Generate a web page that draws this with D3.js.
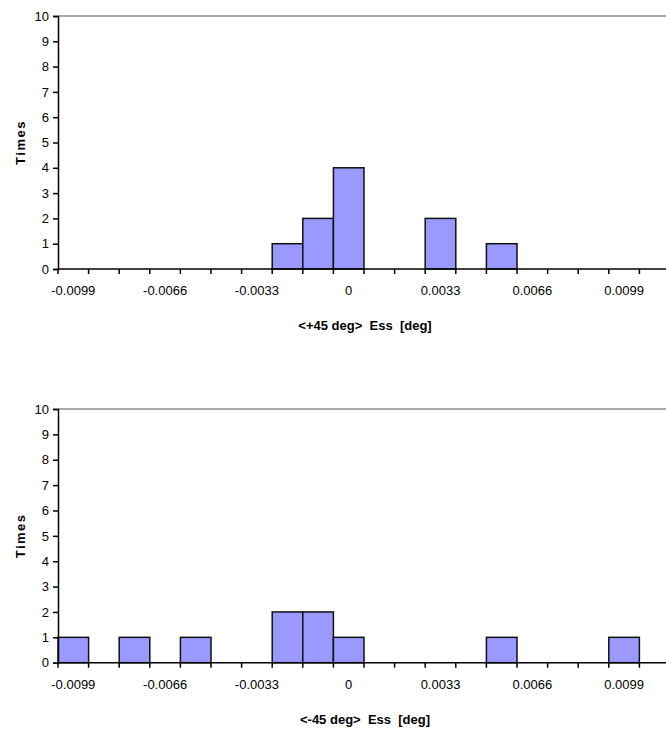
<!DOCTYPE html>
<html>
<head>
<meta charset="utf-8">
<script src="https://cdn.jsdelivr.net/npm/d3@7"></script>
<style>
  html, body { margin: 0; padding: 0; background: #fff; overflow: hidden; }
  svg { display: block; font-family: "Liberation Sans", Arial, sans-serif; }
</style>
</head>
<body>
<div id="chart"></div>
<script>
// histogram bins (category labels) and counts
const bins = ["-0.0099", "-0.0088", "-0.0077", "-0.0066", "-0.0055", "-0.0044", "-0.0033",
  "-0.0022", "-0.0011", "0", "0.0011", "0.0022", "0.0033", "0.0044", "0.0055", "0.0066",
  "0.0077", "0.0088", "0.0099", "0.011"];
const countsPlus45 = [0, 0, 0, 0, 0, 0, 0, 1, 2, 4, 0, 0, 2, 0, 1, 0, 0, 0, 0, 0];
const countsMinus45 = [1, 0, 1, 0, 1, 0, 0, 2, 2, 1, 0, 0, 0, 0, 1, 0, 0, 0, 1, 0];
const shownLabels = ["-0.0099", "-0.0066", "-0.0033", "0", "0.0033", "0.0066", "0.0099"];
const yTicks = [0, 1, 2, 3, 4, 5, 6, 7, 8, 9, 10];

const W = 666, H = 730;
const left = 58, right = 670;

const svg = d3.select("#chart").append("svg")
  .attr("width", W)
  .attr("height", H);

const x = d3.scaleBand().domain(bins).range([left, right]).padding(0);

function panel(counts, top, bottom, title) {
  const y = d3.scaleLinear().domain([0, 10]).range([bottom, top]);
  const g = svg.append("g");

  // top border (grey)
  g.append("line")
    .attr("x1", left).attr("x2", right)
    .attr("y1", y(10)).attr("y2", y(10))
    .attr("stroke", "#aaa").attr("stroke-width", 2);

  // bars
  g.selectAll("rect.bar")
    .data(bins.map((b, i) => ({ bin: b, v: counts[i] })).filter(d => d.v > 0))
    .enter().append("rect")
    .attr("class", "bar")
    .attr("x", d => x(d.bin))
    .attr("y", d => y(d.v))
    .attr("width", x.bandwidth())
    .attr("height", d => y(0) - y(d.v))
    .attr("fill", "#9999ff")
    .attr("stroke", "#111")
    .attr("stroke-width", 1.5);

  // y axis
  const gy = g.append("g")
    .attr("transform", `translate(${left},0)`)
    .call(d3.axisLeft(y).tickValues(yTicks).tickSize(5).tickPadding(4).tickFormat(d3.format("d")));
  gy.select(".domain").attr("stroke", "#000").attr("stroke-width", 1.5);
  gy.selectAll(".tick line").attr("stroke", "#000").attr("stroke-width", 1.5);
  gy.selectAll(".tick text").attr("fill", "#000").style("font-size", "13px");

  // x axis: labels centred in bins, tick marks on bin boundaries
  const gx = g.append("g")
    .attr("transform", `translate(0,${y(0)})`)
    .call(d3.axisBottom(x).tickValues(shownLabels).tickSize(0).tickPadding(17));
  gx.select(".domain").remove();
  gx.selectAll(".tick text").attr("fill", "#000").style("font-size", "13px");

  g.append("line")
    .attr("x1", left).attr("x2", right)
    .attr("y1", y(0)).attr("y2", y(0))
    .attr("stroke", "#000").attr("stroke-width", 1.5);

  g.selectAll("line.xtick")
    .data(bins)
    .enter().append("line")
    .attr("class", "xtick")
    .attr("x1", d => x(d)).attr("x2", d => x(d))
    .attr("y1", y(0)).attr("y2", y(0) + 5)
    .attr("stroke", "#000").attr("stroke-width", 1.5);

  // axis titles
  g.append("text")
    .attr("transform", `translate(25,${(y(0) + y(10)) / 2}) rotate(-90)`)
    .attr("text-anchor", "middle")
    .style("font-size", "13px")
    .style("font-weight", "bold")
    .style("letter-spacing", "1.5px")
    .text("Times");

  g.append("text")
    .attr("x", 365)
    .attr("y", y(0) + 61)
    .attr("text-anchor", "middle")
    .attr("xml:space", "preserve")
    .style("white-space", "pre")
    .style("font-size", "13px")
    .style("font-weight", "bold")
    .text(title);
}

panel(countsPlus45, 16, 269, "<+45 deg>  Ess  [deg]");
panel(countsMinus45, 409, 662.7, "<-45 deg>  Ess  [deg]");
</script>
</body>
</html>
